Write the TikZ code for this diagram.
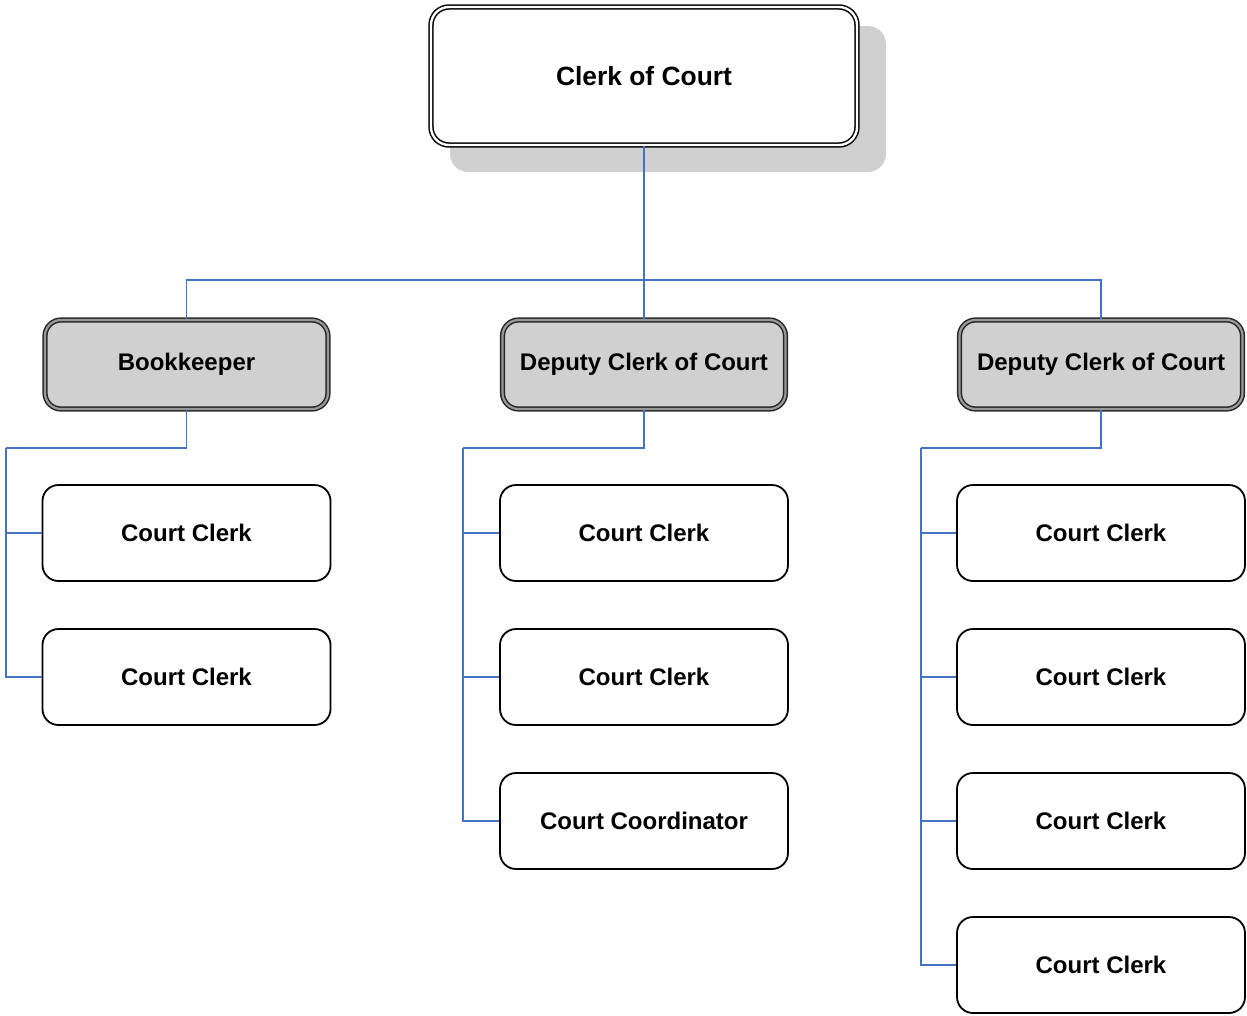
\documentclass[tikz,border=0pt]{standalone}
\usepackage{fontspec}
\setmainfont{Liberation Sans}
\definecolor{conn}{HTML}{4472C4}
\definecolor{boxgray}{HTML}{D0D0D0}
\definecolor{shadowgray}{HTML}{D0D0D0}
\begin{document}
\begin{tikzpicture}[x=1pt,y=-1pt,
  lbl/.style={font=\bfseries\fontsize{24}{28}\selectfont},
  topbox/.style={draw=black, line width=1.5pt, double=white, double distance=2.4pt,
    rounded corners=18pt, fill=white, minimum width=426pt, minimum height=138pt,
    inner sep=0pt, font=\bfseries\fontsize{26.4}{30}\selectfont},
  midbox/.style={draw=black!85, line width=1.5pt, double=black!40, double distance=2.2pt,
    rounded corners=16pt, fill=boxgray, minimum width=283pt, minimum height=89pt,
    inner sep=0pt, lbl},
  leafbox/.style={draw=black, line width=1.8pt, rounded corners=16pt, fill=white,
    minimum width=288pt, minimum height=96pt, inner sep=0pt, lbl},
  wire/.style={draw=conn, line width=1.8pt}]
\useasboundingbox (0,0) rectangle (1247,1015);
% shadow of top box
\fill[shadowgray, rounded corners=18pt] (450,26) rectangle (886,172);
% top
\node[topbox] (top) at (644,76) {Clerk of Court};
% second row
\node[midbox] (bk) at (186.5,364.5) {Bookkeeper};
\node[midbox] (d2) at (644,364.5) {Deputy Clerk of Court};
\node[midbox] (d3) at (1101,364.5) {Deputy Clerk of Court};
% leaves
\node[leafbox] (a1) at (186.5,533) {Court Clerk};
\node[leafbox] (a2) at (186.5,677) {Court Clerk};
\node[leafbox] (b1) at (644,533) {Court Clerk};
\node[leafbox] (b2) at (644,677) {Court Clerk};
\node[leafbox] (b3) at (644,821) {Court Coordinator};
\node[leafbox] (c1) at (1101,533) {Court Clerk};
\node[leafbox] (c2) at (1101,677) {Court Clerk};
\node[leafbox] (c3) at (1101,821) {Court Clerk};
\node[leafbox] (c4) at (1101,965) {Court Clerk};
% bus coordinates
\coordinate (hbus) at (644,280);
\coordinate (abus) at (6,448);
\coordinate (bbus) at (463,448);
\coordinate (cbus) at (921,448);
% connectors
\draw[wire] (top.south) -- (d2.north);
\draw[wire] (hbus) -| (bk.north);
\draw[wire] (hbus) -| (d3.north);
\draw[wire] (bk.south) |- (abus);
\draw[wire] (abus) |- (a1.west);
\draw[wire] (abus) |- (a2.west);
\draw[wire] (d2.south) |- (bbus);
\draw[wire] (bbus) |- (b1.west);
\draw[wire] (bbus) |- (b2.west);
\draw[wire] (bbus) |- (b3.west);
\draw[wire] (d3.south) |- (cbus);
\draw[wire] (cbus) |- (c1.west);
\draw[wire] (cbus) |- (c2.west);
\draw[wire] (cbus) |- (c3.west);
\draw[wire] (cbus) |- (c4.west);
\end{tikzpicture}
\end{document}
